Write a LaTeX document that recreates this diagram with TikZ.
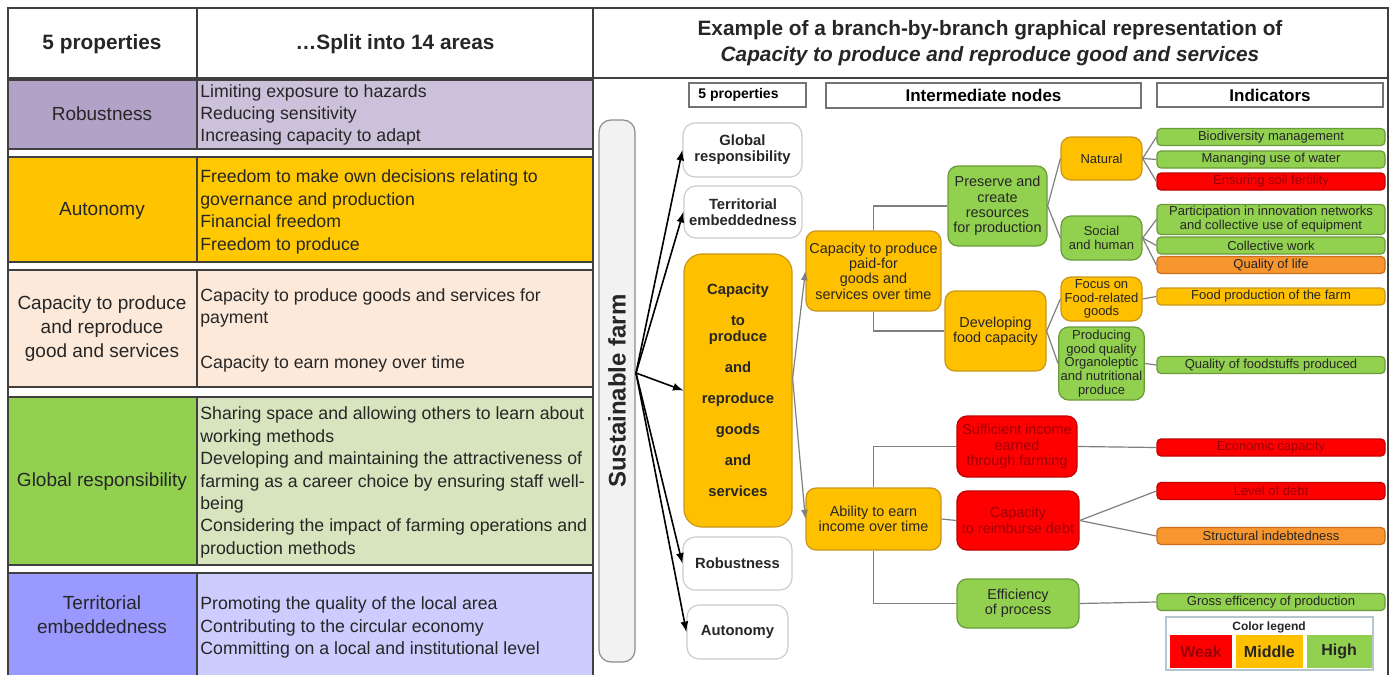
\documentclass[tikz,border=0pt]{standalone}
\usepackage{fontspec}
\setmainfont{Liberation Sans}
\usepackage{xcolor}
\usetikzlibrary{positioning,calc}

\definecolor{robA}{HTML}{B3A2C7}
\definecolor{robB}{HTML}{CCC1DA}
\definecolor{autA}{HTML}{FFC400}
\definecolor{autB}{HTML}{FFC800}
\definecolor{capA}{HTML}{FDE9D9}
\definecolor{gloA}{HTML}{92D050}
\definecolor{gloB}{HTML}{D7E4BD}
\definecolor{terA}{HTML}{9999FF}
\definecolor{terB}{HTML}{CCCCFF}
\definecolor{ornF}{HTML}{FFC000}
\definecolor{ornD}{HTML}{C9961A}
\definecolor{grnF}{HTML}{92D050}
\definecolor{grnD}{HTML}{6A9B3A}
\definecolor{redF}{HTML}{FF0000}
\definecolor{redD}{HTML}{C00000}
\definecolor{redT}{HTML}{9C0006}
\definecolor{drkF}{HTML}{F7962F}
\definecolor{drkD}{HTML}{C86E1E}
\definecolor{txt}{HTML}{262626}
\definecolor{conn}{HTML}{7F7F7F}
\definecolor{frame}{HTML}{404040}
\definecolor{legD}{HTML}{B4C7D0}

\newcommand{\ftab}{\fontsize{8.85}{11.2}\selectfont}
\newcommand{\fcol}{\fontsize{9.5}{12}\selectfont}
\newcommand{\fhead}{\fontsize{10.4}{13}\selectfont\bfseries}
\newcommand{\fhdr}{\fontsize{8.5}{10}\selectfont\bfseries}
\newcommand{\fhdrs}{\fontsize{7}{8}\selectfont\bfseries}
\newcommand{\fprop}{\fontsize{7.4}{8}\selectfont\bfseries}
\newcommand{\fmid}{\fontsize{7.2}{7.7}\selectfont}
\newcommand{\fsmall}{\fontsize{6.5}{6.8}\selectfont}
\newcommand{\find}{\fontsize{6.5}{7}\selectfont}
\newcommand{\ffarm}{\fontsize{12}{14}\selectfont\bfseries}
\newcommand{\flegend}{\fontsize{8}{9}\selectfont\bfseries}
\newcommand{\flegt}{\fontsize{6}{7}\selectfont\bfseries}

\tikzset{
	wh/.style 2 args={minimum width=#1*0.5pt,minimum height=#2*0.5pt},
	box/.style={draw,rounded corners=5pt,align=center,inner sep=1pt,text=txt,line width=0.6pt},
	ornbox/.style={box,fill=ornF,draw=ornD},
	grnbox/.style={box,fill=grnF,draw=grnD},
	redbox/.style={box,fill=redF,draw=redD,text=redT},
	drkbox/.style={box,fill=drkF,draw=drkD},
	indic/.style={rounded corners=2pt,font=\find,wh={228}{17}},
	propbox/.style={box,fill=white,draw=black!20,rounded corners=6pt,font=\fprop},
	hdrbox/.style={draw=black!55,fill=white,align=center,inner sep=0pt,line width=0.6pt},
	link/.style={draw=conn,line width=0.6pt},
	farrow/.style={-latex,line width=0.8pt,black},
	cellline/.style={draw=frame,line width=0.8pt},
	celltext/.style={align=left,anchor=west,inner sep=0pt,font=\ftab,text=txt},
	collabel/.style={align=center,inner sep=0pt,font=\fcol,text=txt},
}

\begin{document}
\begin{tikzpicture}[x=0.5pt,y=-0.5pt]
	\useasboundingbox (0,0) rectangle (1394,675);
	\fill[white] (0,0) rectangle (1394,675);

	% left table
	\filldraw[cellline,fill=robA] (8,80) rectangle (197,149);
	\filldraw[cellline,fill=robB] (197,80) rectangle (593,149);
	\filldraw[cellline,fill=autA] (8,157) rectangle (197,262);
	\filldraw[cellline,fill=autB] (197,157) rectangle (593,262);
	\filldraw[cellline,fill=capA] (8,270) rectangle (197,387);
	\filldraw[cellline,fill=capA] (197,270) rectangle (593,387);
	\filldraw[cellline,fill=gloA] (8,397) rectangle (197,565);
	\filldraw[cellline,fill=gloB] (197,397) rectangle (593,565);
	\filldraw[cellline,fill=terA] (8,573) rectangle (197,690);
	\filldraw[cellline,fill=terB] (197,573) rectangle (593,690);

	\draw[cellline] (8,690) -- (8,8) -- (1388,8) -- (1388,690);
	\draw[cellline] (8,78) -- (1388,78);
	\draw[cellline] (197,8) -- (197,78);
	\draw[cellline] (593,8) -- (593,690);

	\node[collabel,font=\fhead] (tProp) at (102,44) {5 properties};
	\node[collabel,font=\fhead] (tAreas) at (395,44) {…Split into 14 areas};

	\node[collabel] (lRob) at (102,114) {Robustness};
	\node[collabel] (lAut) at (102,211) {Autonomy};
	\node[collabel] (lCap) at (102,329) {Capacity to produce\\and reproduce\\good and services};
	\node[collabel] (lGlo) at (102,482) {Global responsibility};
	\node[collabel] (lTer) at (102,614.5) {Territorial\\embeddedness};

	\node[celltext] (aRob) at (200,115) {Limiting exposure to hazards\\Reducing sensitivity\\Increasing capacity to adapt};
	\node[celltext] (aAut) at (200,212) {Freedom to make own decisions relating to\\governance and production\\Financial freedom\\Freedom to produce};
	\node[celltext] (aCap) at (200,330.5) {Capacity to produce goods and services for\\payment\\[11.2pt]Capacity to earn money over time};
	\node[celltext] (aGlo) at (200,482.5) {Sharing space and allowing others to learn about\\working methods\\Developing and maintaining the attractiveness of\\farming as a career choice by ensuring staff well-\\being\\Considering the impact of farming operations and\\production methods};
	\node[celltext] (aTer) at (200,627.5) {Promoting the quality of the local area\\Contributing to the circular economy\\Committing on a local and institutional level};

	% right panel
	\node[align=center,font=\fhead,text=txt] (title) at (990,43) {Example of a branch-by-branch graphical representation of\\\textit{Capacity to produce and reproduce good and services}};

	\node[hdrbox,font=\fhdrs,wh={117}{24}] (hProp) at (747.5,95) {5 properties\hspace{9pt}};
	\node[hdrbox,font=\fhdr,wh={315}{25}] (hInter) at (983.5,95.5) {Intermediate nodes};
	\node[hdrbox,font=\fhdr,wh={226}{24}] (hInd) at (1270,95) {Indicators};

	\node[draw=black!45,fill=black!5,rounded corners=6pt,line width=0.6pt,wh={36}{542}] (farm) at (617,391) {};
	\node[rotate=90,font=\ffarm,text=txt] (farmlabel) at (farm.center) {Sustainable farm};

	\node[propbox,wh={119}{54}] (pGlobal) at (742.5,150) {Global\\responsibility};
	\node[propbox,wh={118}{52}] (pTerr) at (743,212) {Territorial\\embeddedness};
	\node[ornbox,font=\fprop,rounded corners=9pt,wh={108}{273}] (pCap) at (738,390.5) {Capacity\\[7.5pt]to\\produce\\[7.5pt]and\\[7.5pt]reproduce\\[7.5pt]goods\\[7.5pt]and\\[7.5pt]services};
	\node[propbox,wh={109}{53}] (pRob) at (737.5,563.5) {Robustness};
	\node[propbox,wh={101}{54}] (pAut) at (737.5,632) {Autonomy};

	\coordinate (hub) at (636,373);
	\draw[farrow] (hub) -- (pGlobal.west);
	\draw[farrow] (hub) -- (pTerr.west);
	\draw[farrow] (hub) -- (pCap.west);
	\draw[farrow] (hub) -- (pRob.west);
	\draw[farrow] (hub) -- (pAut.west);

	% intermediate nodes
	\node[ornbox,font=\fmid,wh={135}{80}] (cPaid) at (873.5,271) {Capacity to produce\\paid-for\\goods and\\services over time};
	\node[ornbox,font=\fmid,wh={135}{62}] (ability) at (873.5,519) {Ability to earn\\income over time};

	\node[grnbox,font=\fmid,wh={99}{80}] (preserve) at (997.5,206) {Preserve and\\create\\resources\\for production};
	\node[ornbox,font=\fmid,wh={101}{80}] (develop) at (995.5,331) {Developing\\food capacity};
	\node[redbox,font=\fmid,wh={120}{61}] (sufficient) at (1017,446.5) {Sufficient income\\earned\\through farming};
	\node[redbox,font=\fmid,wh={122}{59}] (reimburse) at (1018,520.5) {Capacity\\to reimburse debt};
	\node[grnbox,font=\fmid,wh={122}{49}] (efficiency) at (1018,603.5) {Efficiency\\of process};

	\node[ornbox,font=\fsmall,wh={81}{43}] (natural) at (1101.5,158.5) {Natural};
	\node[grnbox,font=\fsmall,wh={81}{44}] (social) at (1101.5,238) {Social\\and human};
	\node[ornbox,font=\fsmall,wh={81}{44}] (focus) at (1101.5,299) {Focus on\\Food-related\\goods};
	\node[grnbox,font=\fsmall,wh={81}{73}] (producing) at (1101.5,363.5) {Producing\\good quality\\Organoleptic\\and nutritional\\produce};

	% indicators
	\node[grnbox,indic] (bio) at (1271,137) {Biodiversity management};
	\node[grnbox,indic] (water) at (1271,159.5) {Mananging use of water};
	\node[redbox,indic] (soil) at (1271,181.5) {Ensuring soil fertility};
	\node[grnbox,indic,wh={228}{29}] (partic) at (1271,219.5) {Participation in innovation networks\\and collective use of equipment};
	\node[grnbox,indic] (collect) at (1271,245.5) {Collective work};
	\node[drkbox,indic] (qlife) at (1271,265) {Quality of life};
	\node[ornbox,indic] (foodprod) at (1271,296.5) {Food production of the farm};
	\node[grnbox,indic] (qfood) at (1271,365) {Quality of foodstuffs produced};
	\node[redbox,indic] (econ) at (1271,447.5) {Economic capacity};
	\node[redbox,indic] (debt) at (1271,491) {Level of debt};
	\node[drkbox,indic] (struct) at (1271,536) {Structural indebtedness};
	\node[grnbox,indic] (gross) at (1271,602) {Gross efficency of production};

	% connectors
	\coordinate (capout) at ($(pCap.east)+(0,-12)$);
	\draw[link,-latex] (capout) -- (cPaid.west);
	\draw[link,-latex] (capout) -- (ability.west);

	\draw[link] (cPaid.north) |- (preserve.west);
	\draw[link] (cPaid.south) |- (develop.west);
	\draw[link] (ability.north) |- (sufficient.west);
	\draw[link] (ability.east) -- (reimburse.west);
	\draw[link] (ability.south) |- (efficiency.west);

	\draw[link] (preserve.east) -- (natural.west);
	\draw[link] (preserve.east) -- (social.west);
	\draw[link] (develop.east) -- (focus.west);
	\draw[link] (develop.east) -- (producing.west);

	\draw[link] (natural.east) -- (bio.west);
	\draw[link] (natural.east) -- (water.west);
	\draw[link] (natural.east) -- (soil.west);
	\draw[link] (social.east) -- (partic.west);
	\draw[link] (social.east) -- (collect.west);
	\draw[link] (social.east) -- (qlife.west);
	\draw[link] (focus.east) -- (foodprod.west);
	\draw[link] (producing.east) -- (qfood.west);
	\draw[link] (sufficient.east) -- (econ.west);
	\draw[link] (reimburse.east) -- (debt.west);
	\draw[link] (reimburse.east) -- (struct.west);
	\draw[link] (efficiency.east) -- (gross.west);

	% legend
	\node[draw=legD,fill=white,line width=0.6pt,wh={207}{53}] (legend) at (1269.5,643.5) {};
	\node[font=\flegt,text=txt,inner sep=0pt] (legtitle) at (1269,627) {Color legend};
	\node[fill=redF,wh={62}{33},font=\flegend,text=redT] (weak) at (1201,651.5) {Weak};
	\node[fill=ornF,wh={67}{33},font=\flegend,text=txt,anchor=west] (middle) at ([xshift=1.5pt]weak.east) {Middle};
	\node[fill=grnF,wh={65}{33},font=\flegend,text=txt,anchor=west] (high) at ([xshift=1.5pt]middle.east) {High};
\end{tikzpicture}
\end{document}
